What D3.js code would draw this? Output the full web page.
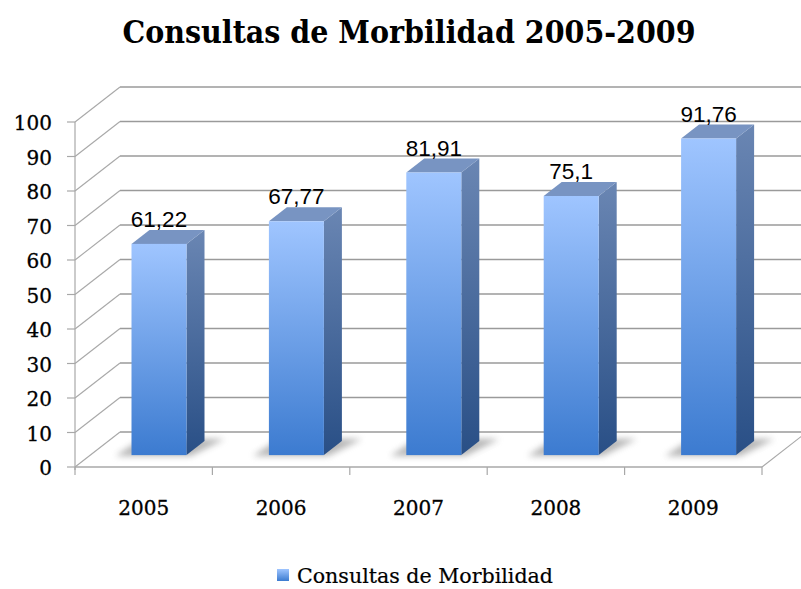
<!DOCTYPE html>
<html>
<head>
<meta charset="utf-8">
<script src="https://cdn.jsdelivr.net/npm/d3@7"></script>
<style>
  body { margin: 0; background: #fff; }
  svg { display: block; }
</style>
</head>
<body>
<div id="chart"></div>
<script>
// data
const years = ["2005", "2006", "2007", "2008", "2009"]
const values = [61.22, 67.77, 81.91, 75.1, 91.76]
const valueLabels = ["61,22", "67,77", "81,91", "75,1", "91,76"]
const yTicks = [0, 10, 20, 30, 40, 50, 60, 70, 80, 90, 100]
const seriesName = "Consultas de Morbilidad"
const title = "Consultas de Morbilidad 2005-2009"

const w = 801, h = 589
// 3d depth offset of the plot box
const dx = 45, dy = -35
// bar depth position (fraction of the box depth)
const f1 = 0.34, f2 = 0.74

var svg = d3.select("#chart").append("svg")
    .attr("width", w).attr("height", h)

svg.append("rect").attr("width", w).attr("height", h).attr("fill", "#fff")

var x = d3.scaleBand().domain(years).range([75, 762]).paddingInner(0).paddingOuter(0)
var y = d3.scaleLinear().domain([0, 100]).range([467, 122])

var barW = 55

var defs = svg.append("defs")
var gFront = defs.append("linearGradient").attr("id", "gFront")
    .attr("x1", 0).attr("y1", 0).attr("x2", 0).attr("y2", 1)
gFront.append("stop").attr("offset", "0%").attr("stop-color", "#9fc5ff")
gFront.append("stop").attr("offset", "100%").attr("stop-color", "#3c7bd0")
var gSide = defs.append("linearGradient").attr("id", "gSide")
    .attr("x1", 0).attr("y1", 0).attr("x2", 0).attr("y2", 1)
gSide.append("stop").attr("offset", "0%").attr("stop-color", "#6a86b3")
gSide.append("stop").attr("offset", "100%").attr("stop-color", "#294f86")
var gLeg = defs.append("linearGradient").attr("id", "gLeg")
    .attr("x1", 0).attr("y1", 0).attr("x2", 0).attr("y2", 1)
gLeg.append("stop").attr("offset", "0%").attr("stop-color", "#9fc5ff")
gLeg.append("stop").attr("offset", "100%").attr("stop-color", "#3c7bd0")
defs.append("filter").attr("id", "blur")
    .attr("x", "-50%").attr("y", "-50%").attr("width", "200%").attr("height", "200%")
    .append("feGaussianBlur").attr("stdDeviation", 3)

// title
svg.append("text")
    .attr("x", 409).attr("y", 43)
    .attr("text-anchor", "middle")
    .attr("font-family", "DejaVu Serif")
    .attr("font-weight", "bold")
    .attr("font-size", 31)
    .attr("textLength", 573).attr("lengthAdjust", "spacingAndGlyphs")
    .text(title)

var x0 = x.range()[0], x1 = x.range()[1]

// back wall gridlines
svg.selectAll(".grid").data(yTicks).enter().append("line")
    .attr("class", "grid")
    .attr("x1", x0 + dx).attr("x2", x1 + dx)
    .attr("y1", d => y(d) + dy).attr("y2", d => y(d) + dy)
    .attr("stroke", "#9a9a9a").attr("stroke-width", 1.5)

// side wall diagonals
svg.selectAll(".side").data(yTicks).enter().append("line")
    .attr("class", "side")
    .attr("x1", x0).attr("y1", d => y(d))
    .attr("x2", x0 + dx).attr("y2", d => y(d) + dy)
    .attr("stroke", "#a8a8a8").attr("stroke-width", 1.1)

// floor edges
svg.append("line")
    .attr("x1", x0).attr("x2", x1).attr("y1", y(0)).attr("y2", y(0))
    .attr("stroke", "#a8a8a8").attr("stroke-width", 1.5)
svg.append("line")
    .attr("x1", x1).attr("y1", y(0)).attr("x2", x1 + dx).attr("y2", y(0) + dy)
    .attr("stroke", "#a8a8a8").attr("stroke-width", 1.1)

// category ticks on floor edge
var bounds = years.map(d => x(d)).concat([x1])
svg.selectAll(".xtick").data(bounds).enter().append("line")
    .attr("class", "xtick")
    .attr("x1", d => d).attr("x2", d => d)
    .attr("y1", y(0)).attr("y2", y(0) + 8)
    .attr("stroke", "#a8a8a8").attr("stroke-width", 1.2)

// front value axis
svg.append("line")
    .attr("x1", x0).attr("x2", x0).attr("y1", y(100)).attr("y2", y(0) + 3)
    .attr("stroke", "#a8a8a8").attr("stroke-width", 1.2)
svg.selectAll(".ytick").data(yTicks).enter().append("line")
    .attr("class", "ytick")
    .attr("x1", x0 - 8).attr("x2", x0)
    .attr("y1", d => y(d)).attr("y2", d => y(d))
    .attr("stroke", "#a8a8a8").attr("stroke-width", 1.2)
svg.selectAll(".ylab").data(yTicks).enter().append("text")
    .attr("class", "ylab")
    .attr("x", 52).attr("y", d => y(d) + 8)
    .attr("text-anchor", "end")
    .attr("font-family", "DejaVu Serif").attr("font-size", 20)
    .attr("stroke", "#000").attr("stroke-width", 0.3)
    .text(d => d)

// category labels
svg.selectAll(".xlab").data(years).enter().append("text")
    .attr("class", "xlab")
    .attr("x", d => x(d) + x.bandwidth() / 2).attr("y", 515)
    .attr("text-anchor", "middle")
    .attr("font-family", "DejaVu Serif").attr("font-size", 20)
    .attr("stroke", "#000").attr("stroke-width", 0.3)
    .text(d => d)

// bars
var bars = years.map((d, i) => {
    var left = x(d) + (x.bandwidth() - barW) / 2 + f1 * dx
    var ddx = (f2 - f1) * dx, ddy = (f2 - f1) * dy
    var base = y(0) + f1 * dy
    var top = y(values[i]) + f1 * dy
    return { year: d, value: values[i], label: valueLabels[i], left: left, right: left + barW, base: base, top: top, ddx: ddx, ddy: ddy }
})

// floor shadows
svg.selectAll(".shadow").data(bars).enter().append("polygon")
    .attr("class", "shadow")
    .attr("points", b => [
        [b.left - 16, b.base + 1], [b.right + 4, b.base + 1],
        [b.right + b.ddx + 20, b.base + b.ddy - 2], [b.left + b.ddx - 8, b.base + b.ddy - 2]
    ].map(p => p.join(",")).join(" "))
    .attr("fill", "#7a7a7a").attr("opacity", 0.55)
    .attr("filter", "url(#blur)")

var g = svg.selectAll(".bar").data(bars).enter().append("g").attr("class", "bar")

g.append("polygon")
    .attr("points", b => [
        [b.right, b.top], [b.right + b.ddx, b.top + b.ddy],
        [b.right + b.ddx, b.base + b.ddy], [b.right, b.base]
    ].map(p => p.join(",")).join(" "))
    .attr("fill", "url(#gSide)")

g.append("polygon")
    .attr("points", b => [
        [b.left, b.top], [b.left + b.ddx, b.top + b.ddy],
        [b.right + b.ddx, b.top + b.ddy], [b.right, b.top]
    ].map(p => p.join(",")).join(" "))
    .attr("fill", "#7894c2")

g.append("rect")
    .attr("x", b => b.left).attr("y", b => b.top)
    .attr("width", barW).attr("height", b => b.base - b.top)
    .attr("fill", "url(#gFront)")

// value labels
svg.selectAll(".vlab").data(bars).enter().append("text")
    .attr("class", "vlab")
    .attr("x", b => b.left + barW / 2)
    .attr("y", b => b.top + b.ddy - 3)
    .attr("text-anchor", "middle")
    .attr("font-family", "Liberation Sans").attr("font-size", 22.5)
    .text(b => b.label)

// legend
svg.append("rect")
    .attr("x", 277).attr("y", 569).attr("width", 12).attr("height", 12)
    .attr("fill", "url(#gLeg)")
svg.append("text")
    .attr("x", 297).attr("y", 583)
    .attr("font-family", "DejaVu Serif").attr("font-size", 20)
    .attr("stroke", "#000").attr("stroke-width", 0.2)
    .attr("textLength", 256).attr("lengthAdjust", "spacingAndGlyphs")
    .text(seriesName)
</script>
</body>
</html>
